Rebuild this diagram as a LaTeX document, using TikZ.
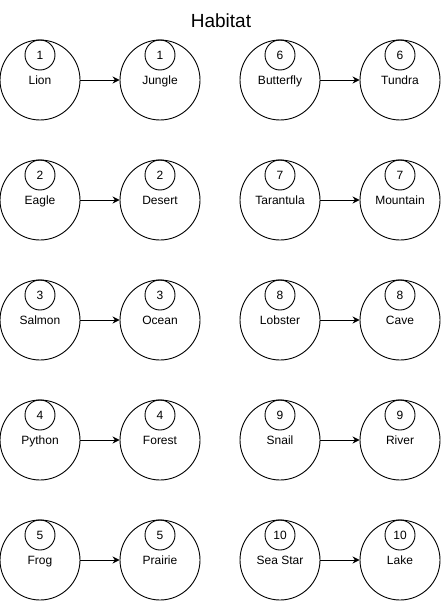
\documentclass[tikz,border=0pt]{standalone}
\usepackage{fontspec}
\setmainfont{Liberation Sans}
\usetikzlibrary{arrows.meta}
\tikzstyle{big}=[circle, draw, line width=0.9pt, minimum size=80pt, inner sep=0pt, text height=10.5pt, text depth=1.5pt, font=\fontsize{12}{14}\selectfont]
\tikzstyle{num}=[circle, draw, line width=0.9pt, minimum size=30pt, inner sep=0pt, text height=10.5pt, text depth=1.5pt, font=\fontsize{12}{14}\selectfont]
\tikzstyle{link}=[line width=0.9pt, -{Stealth[length=7pt, width=7pt]}]

\begin{document}
\begin{tikzpicture}[x=1pt, y=-1pt]
\useasboundingbox (0,0) rectangle (442,602);
% Title
    \node (title) at (221,21) {\fontsize{19}{22}\selectfont Habitat};
% Animals
    \node[big] (lion) at (40,80) {Lion};
    \node[big] (eagle) at (40,200) {Eagle};
    \node[big] (salmon) at (40,320) {Salmon};
    \node[big] (python) at (40,440) {Python};
    \node[big] (frog) at (40,560) {Frog};
    \node[big] (butterfly) at (280,80) {Butterfly};
    \node[big] (tarantula) at (280,200) {Tarantula};
    \node[big] (lobster) at (280,320) {Lobster};
    \node[big] (snail) at (280,440) {Snail};
    \node[big] (seastar) at (280,560) {Sea Star};
% Habitats
    \node[big] (jungle) at (160,80) {Jungle};
    \node[big] (desert) at (160,200) {Desert};
    \node[big] (ocean) at (160,320) {Ocean};
    \node[big] (forest) at (160,440) {Forest};
    \node[big] (prairie) at (160,560) {Prairie};
    \node[big] (tundra) at (400,80) {Tundra};
    \node[big] (mountain) at (400,200) {Mountain};
    \node[big] (cave) at (400,320) {Cave};
    \node[big] (river) at (400,440) {River};
    \node[big] (lake) at (400,560) {Lake};
% Numbers
    \node[num] (lion-n) at (40,55) {1};
    \node[num] (eagle-n) at (40,175) {2};
    \node[num] (salmon-n) at (40,295) {3};
    \node[num] (python-n) at (40,415) {4};
    \node[num] (frog-n) at (40,535) {5};
    \node[num] (jungle-n) at (160,55) {1};
    \node[num] (desert-n) at (160,175) {2};
    \node[num] (ocean-n) at (160,295) {3};
    \node[num] (forest-n) at (160,415) {4};
    \node[num] (prairie-n) at (160,535) {5};
    \node[num] (butterfly-n) at (280,55) {6};
    \node[num] (tarantula-n) at (280,175) {7};
    \node[num] (lobster-n) at (280,295) {8};
    \node[num] (snail-n) at (280,415) {9};
    \node[num] (seastar-n) at (280,535) {10};
    \node[num] (tundra-n) at (400,55) {6};
    \node[num] (mountain-n) at (400,175) {7};
    \node[num] (cave-n) at (400,295) {8};
    \node[num] (river-n) at (400,415) {9};
    \node[num] (lake-n) at (400,535) {10};
% Animal to habitat
    \draw[link] (lion) -- (jungle);
    \draw[link] (eagle) -- (desert);
    \draw[link] (salmon) -- (ocean);
    \draw[link] (python) -- (forest);
    \draw[link] (frog) -- (prairie);
    \draw[link] (butterfly) -- (tundra);
    \draw[link] (tarantula) -- (mountain);
    \draw[link] (lobster) -- (cave);
    \draw[link] (snail) -- (river);
    \draw[link] (seastar) -- (lake);
\end{tikzpicture}
\end{document}
